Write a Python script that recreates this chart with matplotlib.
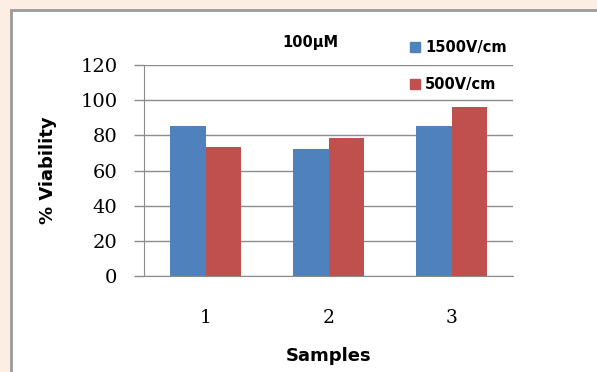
import matplotlib.pyplot as plt
import matplotlib.patches as mpatches
import numpy as np

# data
samples = ["1", "2", "3"]
v1500 = [85.5, 72.5, 85.5]
v500 = [73.5, 78.5, 96]
yticks = [0, 20, 40, 60, 80, 100, 120]

blue = "#4f81bd"
red = "#c0504d"
grey = "#8c8c8c"

W, H = 597, 372
fig = plt.figure(figsize=(W / 100, H / 100), dpi=100)
fig.patch.set_facecolor("#fdeee3")

# white chart area with grey frame (runs past the right/bottom edge)
frame = mpatches.Rectangle((11 / W, -0.1), 1.2, 1 - 10 / H + 0.1,
                           transform=fig.transFigure, facecolor="white",
                           edgecolor="#9a9a9a", linewidth=2, zorder=-5)
fig.patches.append(frame)

ax = fig.add_axes([144 / W, 1 - 276 / H, (513 - 144) / W, (276 - 65) / H])
ax.set_facecolor("none")

x = np.arange(len(samples))
w = 0.29
ax.bar(x - w / 2, v1500, w, color=blue, label="1500V/cm", zorder=3)
ax.bar(x + w / 2, v500, w, color=red, label="500V/cm", zorder=3)

ax.set_xlim(-0.5, len(samples) - 0.5)
ax.set_ylim(0, 120)
ax.set_yticks(yticks)
ax.set_xticks(x)
ax.set_xticklabels(samples, family="DejaVu Serif", fontsize=13.5)
ax.set_yticklabels([str(t) for t in yticks], family="DejaVu Serif", fontsize=14)
ax.tick_params(axis="y", length=7, color=grey, pad=12, width=1)
ax.tick_params(axis="x", length=0, pad=24)
ax.yaxis.grid(True, color=grey, linewidth=1, zorder=1)

for s in ["top", "right"]:
    ax.spines[s].set_visible(False)
for s in ["left", "bottom"]:
    ax.spines[s].set_color(grey)
    ax.spines[s].set_zorder(4)

ax.set_xlabel("Samples", family="DejaVu Sans", fontweight="bold", fontsize=13, labelpad=14)
ax.set_ylabel("% Viability", family="DejaVu Sans", fontweight="bold", fontsize=13, labelpad=17)

fig.text(310 / W, 1 - 43 / H, "100\u00b5M", family="DejaVu Sans", fontweight="bold",
         fontsize=10.5, ha="center", va="center")

handles = [mpatches.Patch(color=blue, label="1500V/cm"),
           mpatches.Patch(color=red, label="500V/cm")]
fig.legend(handles=handles, loc="upper left", bbox_to_anchor=(404 / W, 1 - 34 / H),
           frameon=False, prop={"family": "DejaVu Sans", "weight": "bold", "size": 10.5},
           handlelength=0.7, handleheight=0.7, handletextpad=0.35,
           labelspacing=1.55, borderaxespad=0)

fig.savefig("out.png", dpi=100, facecolor=fig.get_facecolor())
